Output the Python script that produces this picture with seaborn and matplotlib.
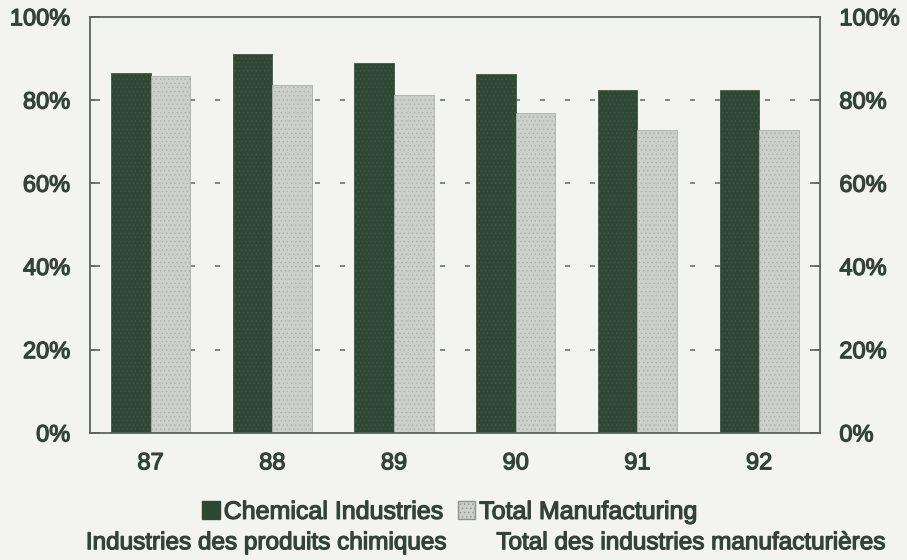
import seaborn as sns
import matplotlib.pyplot as plt
import matplotlib.patheffects as pe
import pandas as pd
from matplotlib.patches import Patch

# valores (%)
years = ['87', '88', '89', '90', '91', '92']
chemical = [86.5, 91.0, 88.8, 86.2, 82.5, 82.5]
total_manuf = [85.7, 83.5, 81.2, 76.8, 72.8, 72.8]

series_en = ['Chemical Industries', 'Total Manufacturing']
series_fr = ['Industries des produits chimiques', 'Total des industries manufacturières']
y_ticks = [0, 20, 40, 60, 80, 100]

df = pd.DataFrame({
    'Year': years * 2,
    'Share': chemical + total_manuf,
    'Series': [series_en[0]] * len(years) + [series_en[1]] * len(years),
})

bg = '#f3f4ef'
txt = '#34423a'
colors = ['#2f4836', '#cdd0ca']
thick = [pe.withStroke(linewidth=0.9, foreground=txt)]

sns.set_style('white')
plt.rcParams['font.family'] = ['Liberation Sans', 'DejaVu Sans']
plt.rcParams['hatch.linewidth'] = 0.5

fig = plt.figure(figsize=(9.07, 5.6), dpi=100, facecolor=bg)
ax = fig.add_axes([0.099, 0.227, 0.805, 0.743])
ax.set_facecolor(bg)

sns.barplot(data=df, x='Year', y='Share', hue='Series', hue_order=series_en,
            palette=colors, width=0.65, saturation=1, ax=ax, legend=False,
            edgecolor='#3a4a3e', linewidth=0.6)

# texture pointillée
for i, bar in enumerate(ax.patches):
    bar.set_hatch('....')
    if i < len(years):
        bar.set_edgecolor('#3e5a44')
    else:
        bar.set_edgecolor('#a9aea6')

ax.set_ylim(0, 100)
ax.set_xlim(-0.5, len(years) - 0.5)
ax.set_yticks(y_ticks)
ax.set_yticklabels([f'{t}%' for t in y_ticks])
ax.set_xlabel('')
ax.set_ylabel('')

for t in y_ticks[1:-1]:
    ax.axhline(t, color='#6d756e', linestyle=(0, (3, 12)), linewidth=1.2, zorder=0)

for s in ax.spines.values():
    s.set_color('#5b635c')
    s.set_linewidth(1.3)

ax.tick_params(axis='y', direction='in', length=7, width=1.2, color='#5b635c',
               labelsize=17, labelcolor=txt, pad=14)
ax.tick_params(axis='x', length=0, labelsize=17, labelcolor=txt, pad=14)

ax2 = ax.twinx()
ax2.set_ylim(0, 100)
ax2.set_yticks(y_ticks)
ax2.set_yticklabels([f'{t}%' for t in y_ticks])
ax2.tick_params(axis='y', direction='in', length=7, width=1.2, color='#5b635c',
                labelsize=17, labelcolor=txt, pad=14)
for s in ax2.spines.values():
    s.set_visible(False)

for lab in ax.get_xticklabels() + ax.get_yticklabels() + ax2.get_yticklabels():
    lab.set_path_effects(thick)

handles = [Patch(facecolor=colors[0], edgecolor=colors[0]),
           Patch(facecolor=colors[1], edgecolor='#8d928b', hatch='....')]
leg = fig.legend(handles, series_en, loc='center', bbox_to_anchor=(0.496, 0.086),
                 ncol=2, frameon=False, fontsize=18, labelcolor=txt,
                 handlelength=0.7, handleheight=0.7, handletextpad=0.15, columnspacing=0.6)
for t in leg.get_texts():
    t.set_path_effects(thick)

fig.text(0.293, 0.03, series_fr[0], ha='center', va='center', fontsize=17.5, color=txt,
         path_effects=thick)
fig.text(0.761, 0.03, series_fr[1], ha='center', va='center', fontsize=17.5, color=txt,
         path_effects=thick)

plt.savefig('out.png', dpi=100, facecolor=bg)
